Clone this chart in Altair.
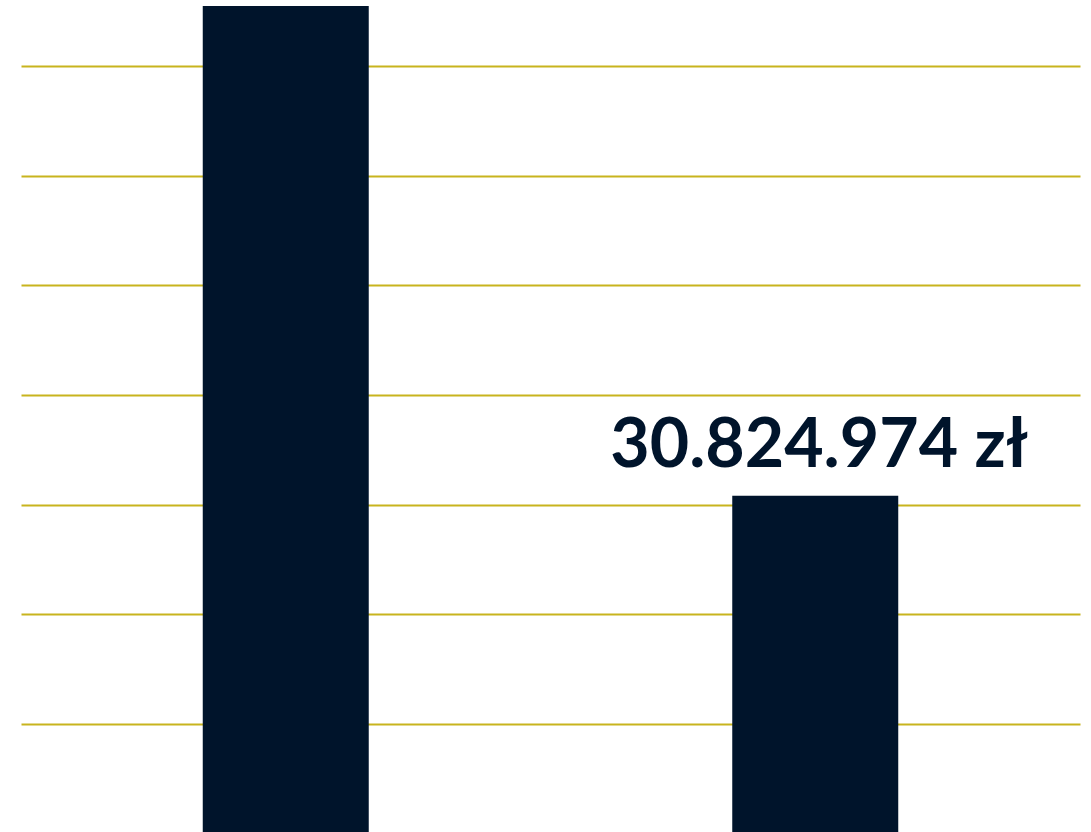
import altair as alt
import pandas as pd

categories = ["A", "B"]
values = [75470000, 30824974]
labels = ["", "30.824.974 zł"]
grid_values = [10000000, 20000000, 30000000, 40000000, 50000000, 60000000, 70000000]

df = pd.DataFrame({"cat": categories, "value": values, "label": labels})

x_enc = alt.X("cat:N", axis=None,
              scale=alt.Scale(paddingInner=0.6865, paddingOuter=0.34325))
y_scale = alt.Scale(domain=[152000, 76020000], nice=False, zero=False)

bars = alt.Chart(df).mark_bar(color="#00142B", clip=True).encode(
    x=x_enc,
    y=alt.Y("value:Q", scale=y_scale,
            axis=alt.Axis(values=grid_values, grid=True, gridColor="#C8B41E",
                          gridWidth=2, domain=False, ticks=False, labels=False,
                          title=None)),
)

text = alt.Chart(df).mark_text(
    font="Lato", fontWeight="bold", fontSize=68, color="#00142B",
    baseline="alphabetic", align="center", dy=-29, dx=4
).encode(
    x=x_enc,
    y=alt.Y("value:Q", scale=y_scale),
    text="label:N",
)

chart = alt.layer(bars, text).properties(
    width=1059, height=832,
    autosize=alt.AutoSizeParams(type="none"),
    padding={"left": 21, "top": 0, "right": 11, "bottom": 0},
    background="white",
).configure_view(stroke=None)

chart.save("out.html", embed_options={"renderer": "svg", "actions": False})
